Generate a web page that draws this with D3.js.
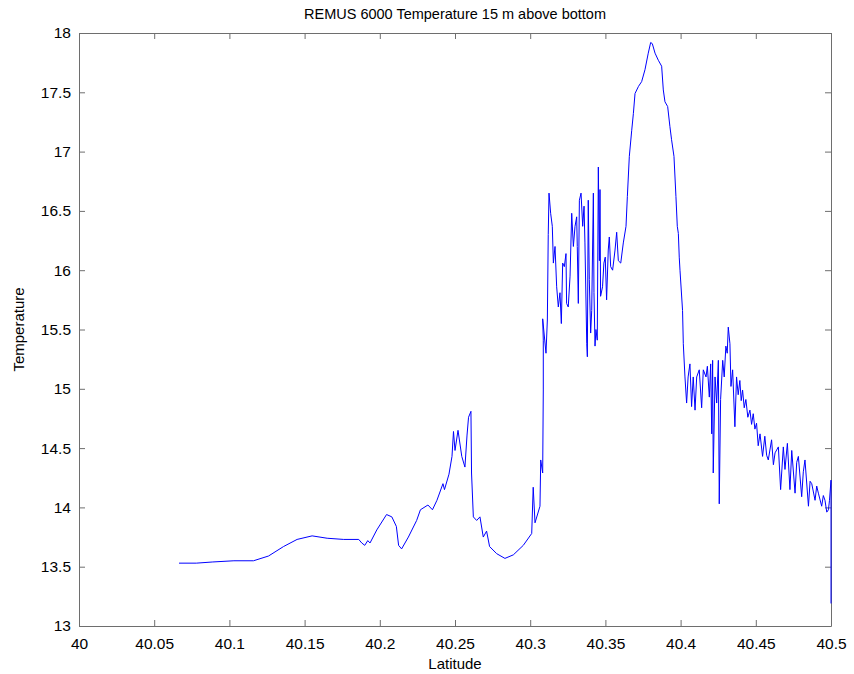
<!DOCTYPE html>
<html>
<head>
<meta charset="utf-8">
<script src="https://cdn.jsdelivr.net/npm/d3@7"></script>
<style>
  body { margin: 0; background: #fff; }
  text { font-family: "Liberation Sans", Arial, Helvetica, sans-serif; fill: #000; }
</style>
</head>
<body>
<div id="chart"></div>
<script>
// values (latitude, temperature)
var lat = [
  40.0665, 40.078, 40.089, 40.103, 40.116, 40.126, 40.136, 40.145, 40.155, 40.165, 40.176, 40.186,
  40.188, 40.190, 40.192, 40.1935, 40.198, 40.2045, 40.208, 40.211, 40.2125, 40.2145,
  40.219, 40.2245, 40.227, 40.232, 40.235, 40.238, 40.242, 40.243, 40.246, 40.248, 40.249, 40.250,
  40.252, 40.2545, 40.2566, 40.258, 40.259, 40.2606, 40.261, 40.2622, 40.2644, 40.2666,
  40.2688, 40.271, 40.273, 40.2777, 40.2832, 40.2888, 40.2954, 40.301, 40.302, 40.3032, 40.3065,
  40.307, 40.3083, 40.3087, 40.3087, 40.3083, 40.3105, 40.3114, 40.312, 40.3125, 40.3136,
  40.3147, 40.3154, 40.3165, 40.3176, 40.3187, 40.3198, 40.3207, 40.3216, 40.3227, 40.3238,
  40.3242, 40.3253, 40.3265, 40.3276, 40.3287, 40.3298, 40.3309, 40.3313, 40.332, 40.3327,
  40.3338, 40.3349, 40.3358, 40.3364, 40.3376, 40.338, 40.3386, 40.3393, 40.3402, 40.3409,
  40.342, 40.3424, 40.3431, 40.3437, 40.3446, 40.3453, 40.346, 40.3464, 40.3468, 40.3481,
  40.349, 40.3499, 40.3508, 40.3519, 40.3526, 40.3535, 40.3548, 40.3564, 40.3575, 40.3586,
  40.3602, 40.3619, 40.3637, 40.3646, 40.3659, 40.3675, 40.3686, 40.3697, 40.372, 40.3741,
  40.3763, 40.3785, 40.3801, 40.3812, 40.383, 40.3852, 40.3874, 40.3885, 40.3896, 40.3914,
  40.3929, 40.394, 40.3956, 40.3969, 40.3978, 40.3985, 40.3991, 40.3996, 40.4013, 40.4018,
  40.4029, 40.404, 40.405, 40.4062, 40.4073, 40.4084, 40.4096, 40.4107, 40.4124, 40.414,
  40.4151, 40.4169, 40.4178, 40.4191, 40.420, 40.4207, 40.4213, 40.4217, 40.4229, 40.424,
  40.4251, 40.4257, 40.4266, 40.428, 40.429, 40.4301, 40.431, 40.4317, 40.4328, 40.4335,
  40.4346, 40.4361, 40.4372, 40.4383, 40.4394, 40.4403, 40.4412, 40.4423, 40.4434, 40.4447,
  40.4461, 40.4472, 40.4483, 40.4494, 40.4505, 40.4516, 40.4528,
  40.4545, 40.456, 40.4572, 40.4583, 40.4605, 40.4617, 40.4628, 40.465, 40.4665, 40.4683, 40.4694, 40.471,
  40.4727, 40.4739, 40.4761, 40.4772, 40.4783, 40.4805, 40.4816, 40.4827, 40.485, 40.4861, 40.4872, 40.4894, 40.4905, 40.4916,
  40.4938, 40.4949, 40.496, 40.4972, 40.4983, 40.499, 40.500, 40.500
];
var temp = [
  13.53, 13.53, 13.54, 13.55, 13.55, 13.59, 13.67, 13.73, 13.76, 13.74, 13.73, 13.73,
  13.70, 13.68, 13.72, 13.70, 13.81, 13.94, 13.92, 13.84, 13.68, 13.65,
  13.75, 13.89, 13.98, 14.02, 13.98, 14.06, 14.20, 14.15, 14.28, 14.43, 14.64, 14.48,
  14.65, 14.43, 14.34, 14.61, 14.76, 14.81, 14.29, 13.92, 13.89, 13.92,
  13.75, 13.80, 13.67, 13.61, 13.57, 13.60, 13.68, 13.78, 14.17, 13.87, 14.01,
  14.40, 14.29, 14.99, 15.41, 15.59, 15.30, 15.58, 16.30, 16.65, 16.48,
  16.37, 16.06, 16.20, 15.86, 15.69, 15.81, 15.55, 16.06, 16.03, 16.14,
  15.72, 15.69, 15.95, 16.48, 16.20, 16.37, 16.45, 16.20, 15.72, 16.59,
  16.65, 16.37, 16.54, 16.23, 15.38, 15.27, 16.59, 15.92, 15.47, 15.66,
  16.65, 15.81, 15.36, 15.50, 15.41, 16.87, 16.08, 16.68, 15.78, 15.86,
  16.06, 16.11, 15.75, 16.17, 16.28, 16.03, 16.00, 16.17, 16.32, 16.08,
  16.06, 16.23, 16.37, 16.62, 16.96, 17.18, 17.32, 17.49, 17.55, 17.59,
  17.69, 17.83, 17.92, 17.91, 17.83, 17.77, 17.72, 17.52, 17.42, 17.38,
  17.21, 17.10, 16.96, 16.62, 16.37, 16.31, 16.11, 16.00, 15.66, 15.38,
  15.10, 14.88, 15.10, 15.21, 14.85, 15.10, 14.82, 15.10, 15.16, 14.84,
  15.16, 15.10, 15.19, 14.93, 15.21, 14.62, 15.24, 14.29, 15.10, 14.88,
  15.24, 14.03, 14.91, 15.24, 15.10, 15.36, 15.30, 15.52, 15.38, 15.02,
  15.16, 14.68, 15.10, 14.95, 15.07, 14.90, 14.99, 14.84, 14.91, 14.76,
  14.82, 14.70, 14.79, 14.66, 14.71, 14.52, 14.62,
  14.43, 14.60, 14.44, 14.40, 14.57, 14.36, 14.46, 14.51, 14.15, 14.51, 14.32, 14.54,
  14.15, 14.48, 14.12, 14.38, 14.43, 14.09, 14.30, 14.40, 14.01, 14.22, 14.20, 14.06, 14.18, 14.12,
  14.01, 14.10, 14.06, 13.96, 13.98, 14.06, 14.23, 13.19
];
var xTicks = [40, 40.05, 40.1, 40.15, 40.2, 40.25, 40.3, 40.35, 40.4, 40.45, 40.5];
var yTicks = [13, 13.5, 14, 14.5, 15, 15.5, 16, 16.5, 17, 17.5, 18];

var width = 854,
    height = 674,
    margin = {top: 33, right: 23, bottom: 48, left: 79},
    w = width - margin.left - margin.right,
    h = height - margin.top - margin.bottom;

var data = lat.map(function(d, i){ return {lat: d, t: temp[i]}; });

var x = d3.scaleLinear().domain([40, 40.5]).range([0, w]);
var y = d3.scaleLinear().domain([13, 18]).range([h, 0]);

var svg = d3.select("#chart").append("svg")
    .attr("width", width)
    .attr("height", height)
  .append("g")
    .attr("transform", "translate(" + margin.left + "," + margin.top + ")");

var fmt = function(d){ return String(+d.toFixed(2)); };

// bottom & left axes with labels, ticks pointing inwards
var xAxis = svg.append("g")
    .attr("transform", "translate(0," + h + ")")
    .call(d3.axisBottom(x).tickValues(xTicks).tickFormat(fmt).tickSizeInner(-6).tickSizeOuter(0).tickPadding(12));
var yAxis = svg.append("g")
    .call(d3.axisLeft(y).tickValues(yTicks).tickFormat(fmt).tickSizeInner(-6).tickSizeOuter(0).tickPadding(8));

// top & right axes, ticks only
var xTop = svg.append("g")
    .call(d3.axisTop(x).tickValues(xTicks).tickFormat("").tickSizeInner(-6).tickSizeOuter(0));
var yRight = svg.append("g")
    .attr("transform", "translate(" + w + ",0)")
    .call(d3.axisRight(y).tickValues(yTicks).tickFormat("").tickSizeInner(-6).tickSizeOuter(0));

[xAxis, yAxis, xTop, yRight].forEach(function(a){
  a.selectAll("path, line").attr("stroke", "#6e6e6e").attr("stroke-width", 1);
  a.selectAll("text").style("font-size", "15.5px").attr("fill", "#000");
});

svg.append("path")
    .datum(data)
    .attr("fill", "none")
    .attr("stroke", "#0000ff")
    .attr("stroke-width", 1)
    .attr("d", d3.line()
      .x(function(d){ return x(d.lat); })
      .y(function(d){ return y(d.t); }));

svg.append("text")
    .attr("x", w / 2)
    .attr("y", -14)
    .attr("text-anchor", "middle")
    .style("font-size", "14.5px")
    .text("REMUS 6000 Temperature 15 m above bottom");

svg.append("text")
    .attr("x", w / 2)
    .attr("y", h + 43)
    .attr("text-anchor", "middle")
    .style("font-size", "15px")
    .text("Latitude");

svg.append("text")
    .attr("transform", "translate(" + (-55) + "," + (h / 2) + ") rotate(-90)")
    .attr("text-anchor", "middle")
    .style("font-size", "15px")
    .text("Temperature");
</script>
</body>
</html>
